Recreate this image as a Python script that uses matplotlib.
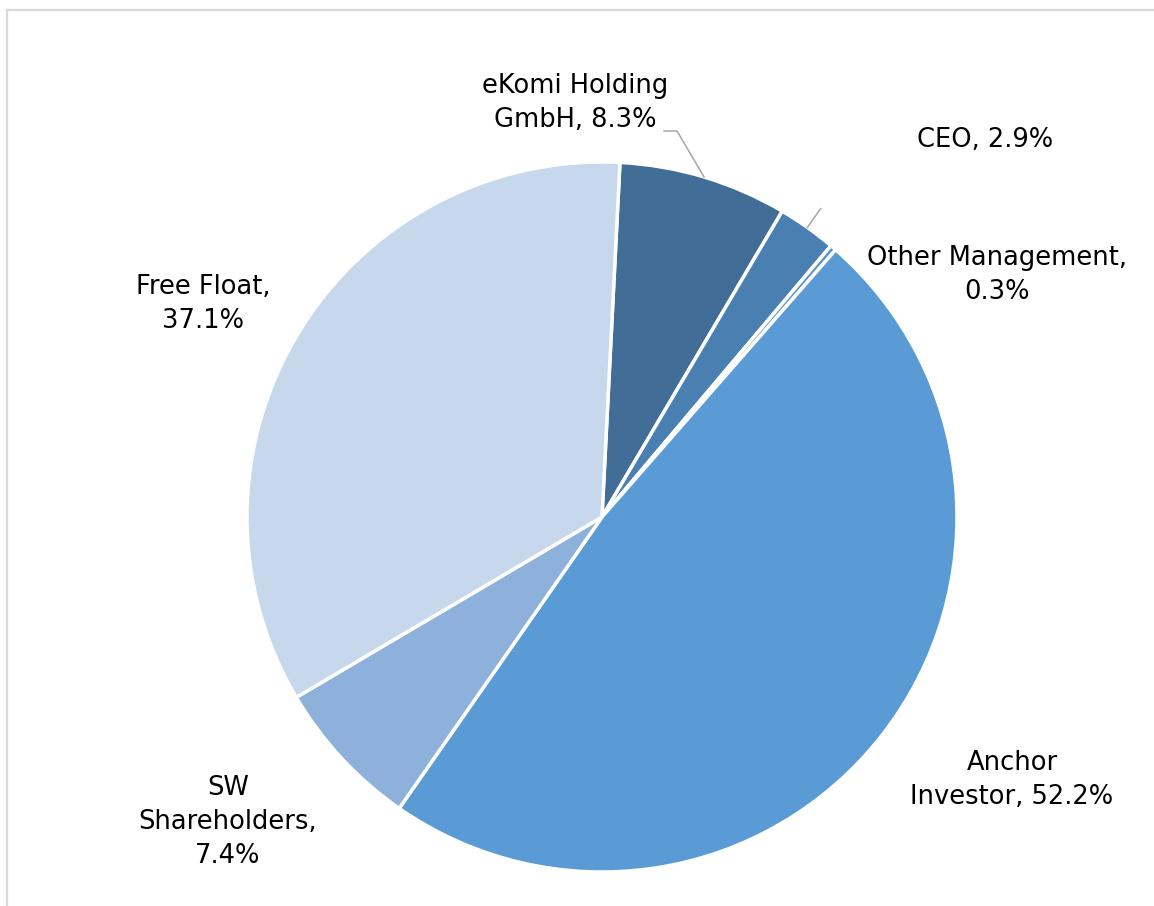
import numpy as np
import matplotlib
matplotlib.use("Agg")
import matplotlib.pyplot as plt
from matplotlib.lines import Line2D

# data (clockwise from just right of 12 o'clock)
labels = ["eKomi Holding\nGmbH", "CEO", "Other Management,\n", "Anchor\nInvestor", "SW\nShareholders,\n", "Free Float,\n"]
values = [8.3, 2.9, 0.3, 52.2, 7.4, 37.1]
colors = ["#416D97", "#4A7FB2", "#5A93CC", "#5B9BD5", "#8EB1DB", "#C7D8EC"]

W, H = 1154, 906
fig = plt.figure(figsize=(W / 100, H / 100), dpi=100)
ax = fig.add_axes([0, 0, 1, 1])

cx, cy, R = 602, H - 517, 355
wedges, _ = ax.pie(values, colors=colors, startangle=87.1, counterclock=False,
                   center=(cx, cy), radius=R,
                   wedgeprops=dict(edgecolor="white", linewidth=2.5))
ax.set_xlim(0, W)
ax.set_ylim(0, H)
ax.set_aspect("equal")
ax.axis("off")

fs = 18.5
txt = dict(ha="center", va="center", fontsize=fs, color="black",
           family="DejaVu Sans", linespacing=1.38)

def fmt(v):
    return f"{v:.1f}%"

# label texts
ax.text(575, H - 103, f"eKomi Holding\nGmbH, {fmt(values[0])}", **txt)
ax.text(985, H - 140, f"CEO, {fmt(values[1])}", **txt)
ax.text(997, H - 275, f"Other Management,\n{fmt(values[2])}", **txt)
ax.text(1012, H - 780, f"Anchor\nInvestor, {fmt(values[3])}", **txt)
ax.text(228, H - 822, f"SW\nShareholders,\n{fmt(values[4])}", **txt)
ax.text(203, H - 304, f"Free Float,\n{fmt(values[5])}", **txt)

# leader lines
def mid(w, r):
    a = np.deg2rad((w.theta1 + w.theta2) / 2)
    return cx + r * np.cos(a), cy + r * np.sin(a)

x0, y0 = mid(wedges[0], R)
ax.plot([x0, 677, 664], [y0, H - 131, H - 131], color="#A6A6A6", lw=1.1)
x1, y1 = mid(wedges[1], R)
x2, y2 = mid(wedges[1], R + 23)
ax.plot([x1, x2], [y1, y2], color="#A6A6A6", lw=1.1)

# chart frame (top and left edges visible)
fig.add_artist(Line2D([7 / W, 7 / W], [0, 1 - 10 / H], transform=fig.transFigure,
                      color="#D9D9D9", lw=1.6))
fig.add_artist(Line2D([7 / W, 1], [1 - 10 / H, 1 - 10 / H], transform=fig.transFigure,
                      color="#D9D9D9", lw=1.6))

fig.savefig("out.png", dpi=100)
